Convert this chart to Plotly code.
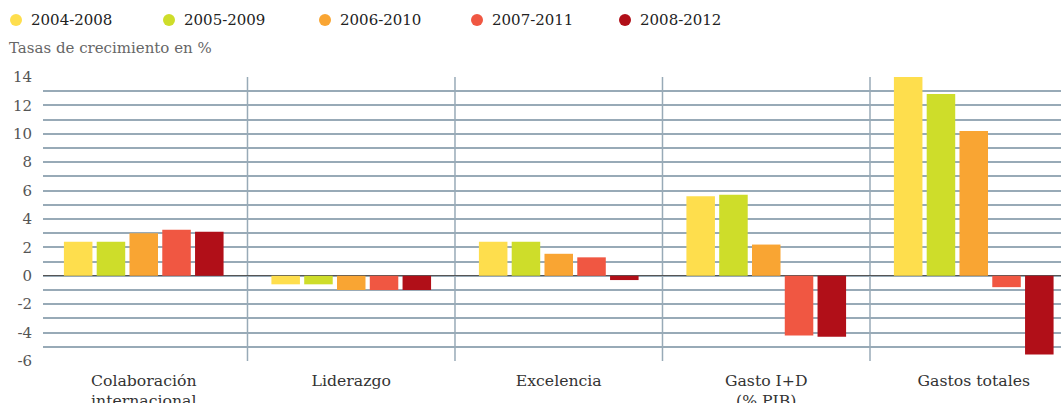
import plotly.graph_objects as go

categories = ["Colaboración<br>internacional", "Liderazgo", "Excelencia", "Gasto I+D<br>(% PIB)", "Gastos totales"]
series_names = ["2004-2008", "2005-2009", "2006-2010", "2007-2011", "2008-2012"]
v_2004_2008 = [2.4, -0.6, 2.4, 5.6, 14.0]
v_2005_2009 = [2.4, -0.6, 2.4, 5.7, 12.8]
v_2006_2010 = [3.0, -1.0, 1.55, 2.2, 10.2]
v_2007_2011 = [3.25, -1.0, 1.3, -4.2, -0.8]
v_2008_2012 = [3.1, -1.0, -0.3, -4.3, -5.55]
series_values = [v_2004_2008, v_2005_2009, v_2006_2010, v_2007_2011, v_2008_2012]
colors = ["#FEDE4D", "#CEDD2A", "#F9A533", "#F05742", "#B10F18"]
y_ticks = list(range(-6, 15, 2))

FONT = "DejaVu Serif"
GRID = "#98aab7"
W, H = 1061, 403
ML, MT, MB = 43, 77, 42
PW, PH = W - ML, H - MT - MB

fig = go.Figure()
xs = list(range(len(categories)))
for name, vals, col in zip(series_names, series_values, colors):
    fig.add_trace(go.Bar(x=xs, y=vals, name=name, marker=dict(color=col, line=dict(width=0)),
                         showlegend=False))

for i in range(len(categories) - 1):
    fig.add_shape(type="line", x0=i + 0.5, x1=i + 0.5, y0=-6, y1=14, xref="x", yref="y",
                  line=dict(color=GRID, width=1.5), layer="below")

# custom legend (circles + labels) positioned in pixels
legend_dot_x = [16, 169, 325, 477, 625]
legend_y_px = 20
annotations = []
for px, name, col in zip(legend_dot_x, series_names, colors):
    fx = (px - ML) / PW
    fy = 1 + (MT - legend_y_px) / PH
    fig.add_shape(type="circle", xref="paper", yref="paper", xsizemode="pixel", ysizemode="pixel",
                  xanchor=fx, yanchor=fy, x0=-6, x1=6, y0=-6, y1=6,
                  fillcolor=col, line=dict(width=0))
    annotations.append(dict(text=name, xref="paper", yref="paper", x=(px + 13 - ML) / PW, y=fy,
                            xanchor="left", yanchor="middle", showarrow=False,
                            font=dict(size=15, color="#222")))

annotations.append(dict(text="Tasas de crecimiento en %", xref="paper", yref="paper",
                        x=(7 - ML) / PW, y=1 + (MT - 48) / PH, xanchor="left", yanchor="middle",
                        showarrow=False, font=dict(size=15, color="#666")))

fig.update_layout(
    width=W, height=H,
    margin=dict(l=ML, r=0, t=MT, b=MB, autoexpand=False),
    paper_bgcolor="white", plot_bgcolor="white",
    barmode="group", bargap=0.21, bargroupgap=0.13,
    font=dict(family=FONT, size=15, color="#333"),
    showlegend=False,
    xaxis=dict(range=[-0.4855, 4.4205], tickmode="array", tickvals=xs, ticktext=categories,
               showgrid=False, zeroline=False, showline=False, ticks="", automargin=False,
               ticklabelstandoff=8, tickfont=dict(size=15.7, color="#333")),
    yaxis=dict(range=[-6, 14], tickmode="array", tickvals=y_ticks,
               ticktext=[str(t) for t in y_ticks], automargin=False,
               showgrid=True, gridcolor=GRID, gridwidth=1.5,
               minor=dict(dtick=1, showgrid=True, gridcolor=GRID, gridwidth=1.5),
               zeroline=True, zerolinecolor="#555", zerolinewidth=1.3,
               showline=False, ticks="", ticklabelstandoff=10,
               tickfont=dict(size=15, color="#555")),
    annotations=annotations,
)

fig.write_html("out.html", config={"displayModeBar": False},
               post_script="document.body.style.margin='0';document.body.style.padding='0';document.body.style.overflow='hidden';")
